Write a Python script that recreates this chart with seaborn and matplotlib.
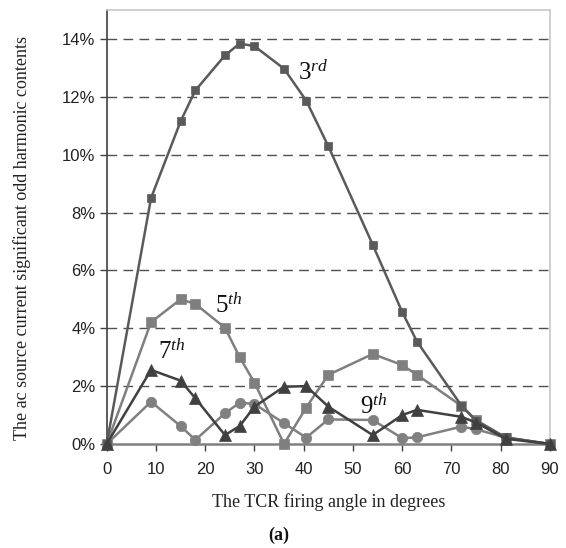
import matplotlib
matplotlib.use("Agg")
import matplotlib.pyplot as plt
import seaborn as sns
import pandas as pd
from matplotlib.ticker import FuncFormatter

# ---- data ----
angles = [0, 9, 15, 18, 24, 27, 30, 36, 40.5, 45, 54, 60, 63, 72, 75, 81, 90]
h3 = [0, 8.5, 11.15, 12.22, 13.43, 13.84, 13.75, 12.97, 11.87, 10.29, 6.89, 4.56, 3.54, 1.33, 0.80, 0.23, 0]
h5 = [0, 4.21, 5.00, 4.84, 4.02, 3.00, 2.12, 0.00, 1.26, 2.39, 3.11, 2.73, 2.39, 1.32, 0.83, 0.22, 0]
h7 = [0, 2.56, 2.19, 1.58, 0.31, 0.62, 1.29, 1.98, 2.00, 1.29, 0.31, 1.00, 1.18, 0.94, 0.74, 0.18, 0]
h9 = [0, 1.46, 0.62, 0.14, 1.06, 1.43, 1.38, 0.72, 0.22, 0.85, 0.83, 0.20, 0.23, 0.60, 0.51, 0.22, 0]
series_names = ["3rd", "5th", "7th", "9th"]
y_ticks = [0, 2, 4, 6, 8, 10, 12, 14]
x_ticks = [0, 10, 20, 30, 40, 50, 60, 70, 80, 90]

sns.set_theme(style="white")
plt.rcParams["font.family"] = ["Liberation Sans", "DejaVu Sans"]
plt.rcParams["mathtext.fontset"] = "custom"
plt.rcParams["mathtext.rm"] = "Liberation Serif"
plt.rcParams["mathtext.it"] = "Liberation Serif:italic"

fig = plt.figure(figsize=(5.66, 5.48), dpi=100)
ax = fig.add_axes([106.7 / 566, 1 - 444 / 548, (550 - 106.7) / 566, (444 - 10) / 548])

styles = {
    "3rd": dict(color="#5a5a5a", marker="s", ms=5.5, lw=1.8, z=5),
    "5th": dict(color="#7f7f7f", marker="s", ms=7.5, lw=1.8, z=4),
    "7th": dict(color="#404040", marker="^", ms=8, lw=1.8, z=6),
    "9th": dict(color="#808080", marker="o", ms=7.5, lw=1.8, z=3),
}
data = {"3rd": h3, "5th": h5, "7th": h7, "9th": h9}

for name in series_names:
    st = styles[name]
    df = pd.DataFrame({"angle": angles, "value": data[name]})
    sns.lineplot(data=df, x="angle", y="value", ax=ax, color=st["color"],
                 marker=st["marker"], markersize=st["ms"], linewidth=st["lw"],
                 markeredgecolor=st["color"], markeredgewidth=0.5,
                 zorder=st["z"], clip_on=False, legend=False)

ax.set_xlim(0, 90)
ax.set_ylim(0, 15.0)
ax.set_xticks(x_ticks)
ax.set_yticks(y_ticks)
ax.yaxis.set_major_formatter(FuncFormatter(lambda v, p: f"{v:.0f}%"))

for yv in y_ticks[1:]:
    ax.axhline(yv, color="#505050", lw=1.0, ls=(0, (7, 4.5)), zorder=1)

ax.spines["left"].set_color("#404040")
ax.spines["left"].set_linewidth(1.2)
ax.spines["bottom"].set_color("#808080")
ax.spines["bottom"].set_linewidth(1.8)
ax.spines["top"].set_color("#c8c8c8")
ax.spines["right"].set_color("#c8c8c8")
ax.spines["top"].set_linewidth(1.2)
ax.spines["right"].set_linewidth(1.2)

ax.tick_params(axis="both", which="major", direction="out", length=5, width=1,
               color="#404040", labelsize=12, labelcolor="#222222",
               left=True, bottom=True)
ax.tick_params(axis="y", pad=3)
ax.tick_params(axis="x", pad=8)

serif = ["Liberation Serif", "DejaVu Serif"]
ax.set_xlabel("The TCR firing angle in degrees", family=serif, fontsize=13,
              color="#222222")
ax.xaxis.set_label_coords((329 - 106.7) / 443.3, (444 - 502) / 434)
ax.set_ylabel("The ac source current significant odd harmonic contents",
              family=serif, fontsize=13, color="#222222")
ax.yaxis.set_label_coords((22 - 106.7) / 443.3, (444 - 238) / 434)
ax.xaxis.label.set_va("center")
ax.yaxis.label.set_va("center")

label_style = dict(family=serif, fontsize=18, color="#111111", va="center", ha="left")
ax.text(38.9, 12.85, r"3$^{rd}$", **label_style)
ax.text(22.0, 4.78, r"5$^{th}$", **label_style)
ax.text(10.4, 3.18, r"7$^{th}$", **label_style)
ax.text(51.5, 1.28, r"9$^{th}$", **label_style)

fig.text(279 / 566, 1 - 535 / 548, "(a)", family=serif, fontsize=13,
         fontweight="bold", ha="center", va="center", color="#111111")

fig.savefig("out.png", dpi=100)
